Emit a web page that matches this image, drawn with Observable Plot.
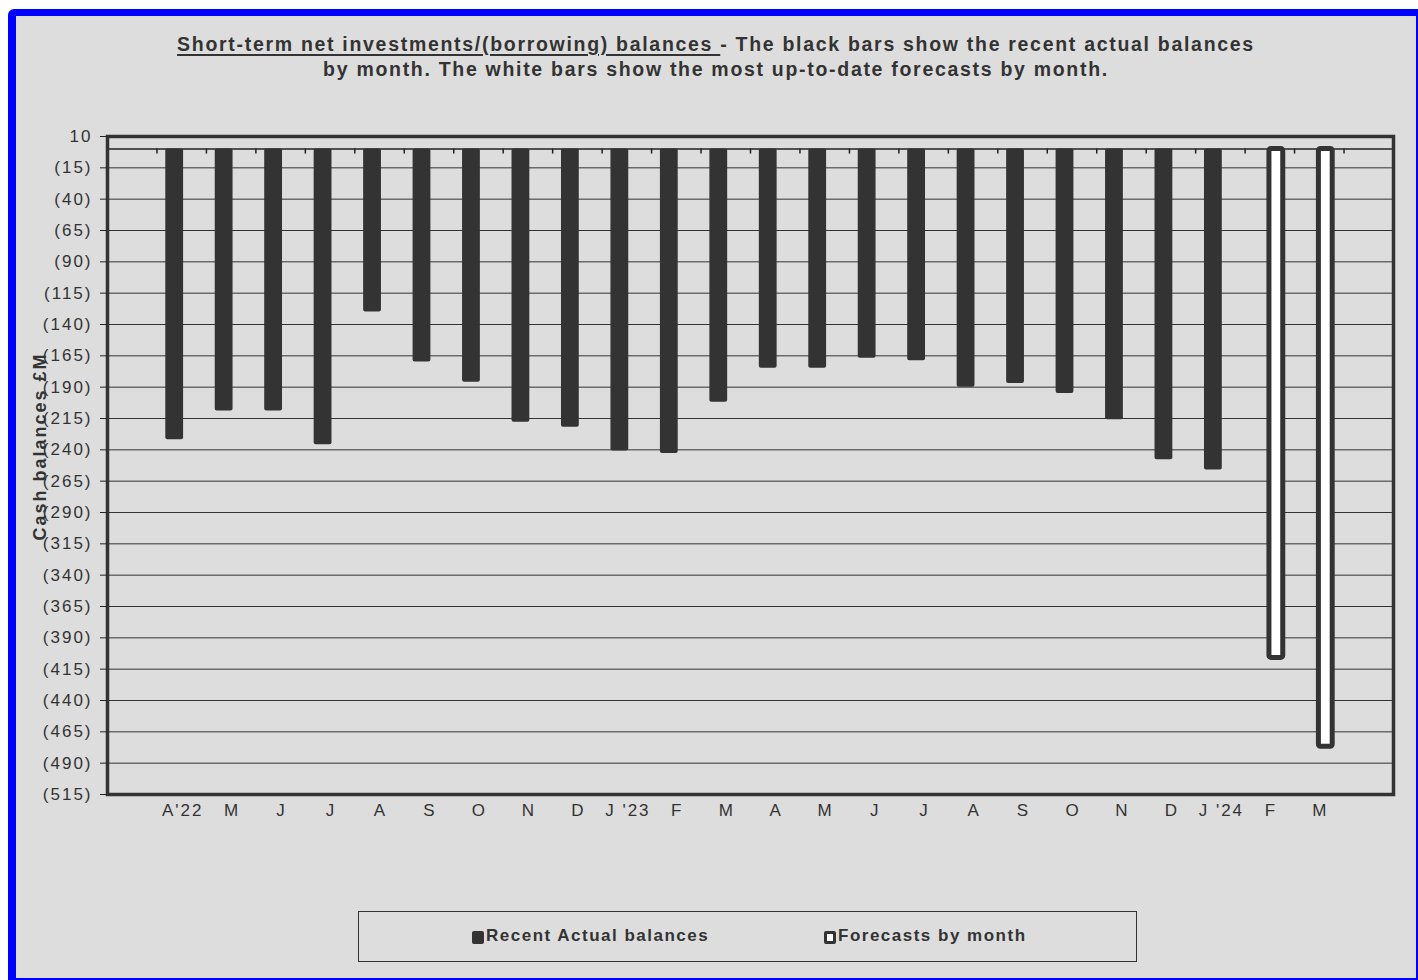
<!DOCTYPE html>
<html>
<head>
<meta charset="utf-8">
<script src="https://cdn.jsdelivr.net/npm/d3@7"></script>
<script src="https://cdn.jsdelivr.net/npm/@observablehq/plot@0.6"></script>
<style>
  html, body { margin: 0; padding: 0; background: #ffffff; width: 1418px; height: 980px; overflow: hidden; }
  body { position: relative; font-family: "Liberation Sans", Arial, sans-serif; color: #333; }
  #border {
    position: absolute; left: 8px; top: 9px; width: 1410px; height: 971px; box-sizing: border-box;
    background: #dddddd; border-left: 8px solid #0000ff; border-top: 7px solid #0000ff;
    border-right: 2px solid #0000ff; border-bottom: 2px solid #0000ff; border-top-left-radius: 6px;
  }
  #title {
    position: absolute; left: 0; top: 32px; width: 1432px; text-align: center;
    font-weight: bold; font-size: 19.5px; line-height: 25px; color: #333; letter-spacing: 1.7px;
  }
  #title u { text-decoration-thickness: 2px; text-underline-offset: 3px; }
  #chart { position: absolute; left: 0; top: 100px; }
  #chart svg text { letter-spacing: 2px; }
  #legend {
    position: absolute; left: 358px; top: 911px; width: 779px; height: 51px; box-sizing: border-box;
    border: 1.5px solid #333; font-weight: bold; font-size: 17px; color: #333; letter-spacing: 1.5px;
  }
  .item { position: absolute; top: 14px; display: flex; align-items: center; }
  .sw { width: 12px; height: 13px; border-radius: 2px; box-sizing: border-box; margin-right: 2px; margin-top: 3px; }
</style>
</head>
<body>
<div id="border"></div>
<div id="title"><u>Short-term net investments/(borrowing) balances </u>- The black bars show the recent actual balances<br>by month. The white bars show the most up-to-date forecasts by month.</div>
<div id="chart"></div>
<div id="legend">
  <div class="item" style="left:113px"><div class="sw" style="background:#333"></div>Recent Actual balances</div>
  <div class="item" style="left:465px"><div class="sw" style="background:#fff;border:3px solid #333"></div>Forecasts by month</div>
</div>
<script>
const monthLabels = ["A'22","M","J","J","A","S","O","N","D","J '23","F","M","A","M","J","J","A","S","O","N","D","J '24","F","M"];
const actualValues = [-232,-209,-209,-236,-130,-170,-186,-218,-222,-241,-243,-202,-175,-175,-167,-169,-190,-187,-195,-216,-248,-256];
const forecastMonths = [22, 23];
const forecastValues = [-406, -477];
const yTicks = d3.range(10, -516, -25);
const yLabel = "Cash balances £M";

const actual = actualValues.map((v, k) => ({i: k + 1, v}));
const forecast = forecastValues.map((v, k) => ({i: forecastMonths[k] + 1, v}));
const nBands = monthLabels.length + 2;
const W = 1418, ML = 107, MR = 25;
const step = (W - ML - MR) / nBands;

const chart = Plot.plot({
  width: W, height: 734,
  marginLeft: ML, marginRight: MR, marginTop: 36, marginBottom: 40,
  style: {background: "transparent", fontFamily: "'Liberation Sans', Arial, sans-serif", color: "#333"},
  x: {type: "band", domain: d3.range(nBands), paddingInner: 0.64, paddingOuter: 0.32, round: false},
  y: {domain: [-515, 10]},
  marks: [
    Plot.gridY(yTicks, {stroke: "#333", strokeOpacity: 1, strokeWidth: 1}),
    Plot.ruleY([0], {stroke: "#222", strokeWidth: 1.5}),
    Plot.ruleX(d3.range(1, nBands), {x: d => d, dx: -step / 2, y1: 0, y2: -4, stroke: "#222", strokeWidth: 1.5}),
    Plot.barY(actual, {x: "i", y: "v", fill: "#333", dx: -7, rx: 2}),
    Plot.barY(forecast, {x: "i", y: "v", fill: "#fff", stroke: "#333", strokeWidth: 5, dx: 6.5, insetLeft: 2, insetRight: 2, rx: 2}),
    Plot.frame({stroke: "#333", strokeWidth: 3.5}),
    Plot.axisY({ticks: yTicks, tickFormat: d => d < 0 ? `(${-d})` : `${d}`, tickSize: 7, tickPadding: 8, fontSize: 17, label: null, stroke: "#222"}),
    Plot.axisX({tickSize: 0, tickPadding: 9, tickFormat: i => monthLabels[i - 1] ?? "", fontSize: 17, label: null, dx: 1}),
    Plot.text([yLabel], {frameAnchor: "left", text: d => d, dx: -67, dy: -19, rotate: -90, textAnchor: "middle", fontWeight: "bold", fontSize: 18, fill: "#333"})
  ]
});
document.getElementById("chart").appendChild(chart);
</script>
</body>
</html>
